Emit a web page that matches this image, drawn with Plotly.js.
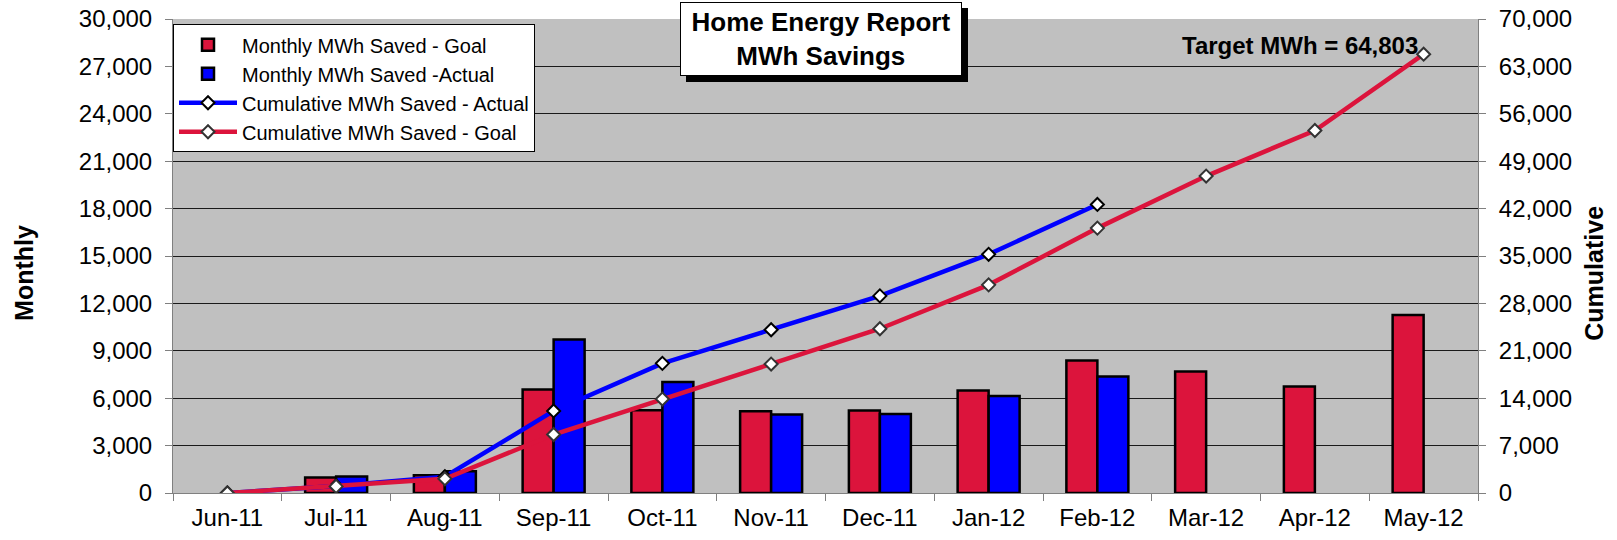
<!DOCTYPE html>
<html>
<head>
<meta charset="utf-8">
<script src="https://cdn.plot.ly/plotly-3.0.1.min.js"></script>
<style>html,body{margin:0;padding:0;background:#fff;}#chart{width:1617px;height:540px;}</style>
</head>
<body>
<div id="chart"></div>
<script>
const months = ["Jun-11","Jul-11","Aug-11","Sep-11","Oct-11","Nov-11","Dec-11","Jan-12","Feb-12","Mar-12","Apr-12","May-12"];
const monthlyGoal = [null, 975, 1120, 6544, 5234, 5171, 5215, 6481, 8380, 7684, 6734, 11265];
const monthlyActual = [null, 1038, 1373, 9709, 7025, 4962, 5000, 6139, 7367, null, null, null];
const cumulativeActual = [0, 1038, 2411, 12120, 19145, 24107, 29107, 35246, 42613, null, null, null];
const cumulativeGoal = [0, 975, 2095, 8639, 13873, 19044, 24259, 30740, 39120, 46804, 53538, 64803];
const leftTicks = [0,3000,6000,9000,12000,15000,18000,21000,24000,27000,30000];
const rightTicks = [0,7000,14000,21000,28000,35000,42000,49000,56000,63000,70000];

const FONT = 'Arial, "Liberation Sans", sans-serif';
const RED = '#DC143C', BLUE = '#0000FF';

const traces = [
  {type:'bar', name:'Monthly MWh Saved - Goal', x:months, y:monthlyGoal, yaxis:'y',
   marker:{color:RED, line:{color:'#000', width:2.5}}},
  {type:'bar', name:'Monthly MWh Saved -Actual', x:months, y:monthlyActual, yaxis:'y',
   marker:{color:BLUE, line:{color:'#000', width:2.5}}},
  {type:'scatter', mode:'lines+markers', name:'Cumulative MWh Saved - Actual', x:months, y:cumulativeActual, yaxis:'y2',
   line:{color:BLUE, width:4.5}, marker:{symbol:'diamond', size:10, color:'#fff', line:{color:'#000', width:2}}},
  {type:'scatter', mode:'lines+markers', name:'Cumulative MWh Saved - Goal', x:months, y:cumulativeGoal, yaxis:'y2',
   line:{color:RED, width:4.5}, marker:{symbol:'diamond', size:10, color:'#fff', line:{color:'#333', width:2}}}
];

const layout = {
  width:1617, height:540,
  margin:{l:173, r:139, t:19, b:47, pad:0},
  paper_bgcolor:'#fff', plot_bgcolor:'#C0C0C0',
  font:{family:FONT, color:'#000', size:24},
  barmode:'group', bargap:0.43, bargroupgap:0,
  showlegend:true,
  legend:{x:0, xanchor:'left', y:0.989, yanchor:'top', bgcolor:'#fff', bordercolor:'#000', borderwidth:1,
          font:{family:FONT, size:20}, tracegroupgap:0, itemwidth:58, traceorder:'normal'},
  xaxis:{type:'category', range:[-0.5, 11.5], showline:true, linecolor:'#808080', linewidth:1, ticks:'outside', ticklen:7, tickcolor:'#808080',
         tickson:'boundaries', showgrid:false, tickfont:{size:24}, fixedrange:true, ticklabelstandoff:3},
  yaxis:{range:[0,30000], tickvals:leftTicks, tickformat:',d', showline:true, linecolor:'#808080', linewidth:1,
         ticks:'outside', ticklen:7, tickcolor:'#808080', showgrid:true, gridcolor:'#1a1a1a', gridwidth:1,
         zeroline:false, tickfont:{size:24}, ticklabelstandoff:8},
  yaxis2:{range:[0,70000], tickvals:rightTicks, tickformat:',d', overlaying:'y', side:'right', showline:true,
          linecolor:'#808080', linewidth:1, ticks:'outside', ticklen:7, tickcolor:'#808080', showgrid:false,
          zeroline:false, tickfont:{size:24}, ticklabelstandoff:8},
  annotations:[
    {xref:'paper', yref:'paper', x:0.4969, y:0.9578, xanchor:'center', yanchor:'middle', xshift:6, yshift:-6,
     text:' ', width:280, height:72, bgcolor:'#000', bordercolor:'#000', borderwidth:1, borderpad:0, showarrow:false},
    {xref:'paper', yref:'paper', x:0.4969, y:0.9578, xanchor:'center', yanchor:'middle',
     text:'<b>Home Energy Report<br>MWh Savings</b>', font:{family:FONT, size:26, color:'#000'},
     width:280, height:72, bgcolor:'#fff', bordercolor:'#000', borderwidth:1, borderpad:0, showarrow:false},
    {xref:'x', yref:'paper', x:'May-12', y:0.9445, xanchor:'right', yanchor:'middle', xshift:-4,
     text:'<b>Target MWh = 64,803</b>', font:{family:FONT, size:24, color:'#000'}, showarrow:false},
    {xref:'paper', yref:'paper', x:-0.1137, y:0.4635, xanchor:'center', yanchor:'middle', textangle:-90,
     text:'<b>Monthly</b>', font:{family:FONT, size:25, color:'#000'}, showarrow:false},
    {xref:'paper', yref:'paper', x:1.0892, y:0.4635, xanchor:'center', yanchor:'middle', textangle:-90,
     text:'<b>Cumulative</b>', font:{family:FONT, size:25, color:'#000'}, showarrow:false}
  ]
};

Plotly.newPlot('chart', traces, layout, {staticPlot:true, displayModeBar:false});
</script>
</body>
</html>
